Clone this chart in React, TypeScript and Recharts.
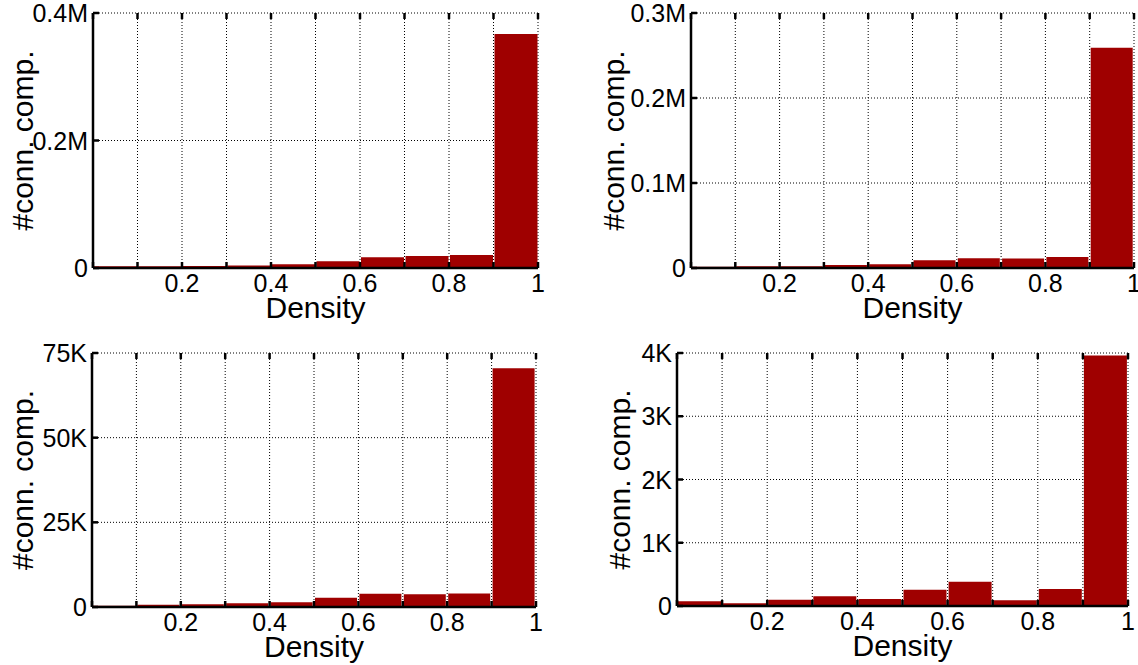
import React from 'react';
import { BarChart, Bar, XAxis, YAxis, CartesianGrid } from 'recharts';

// density bins (0-0.1 ... 0.9-1) and their midpoints
const BINS = ['0-0.1', '0.1-0.2', '0.2-0.3', '0.3-0.4', '0.4-0.5', '0.5-0.6', '0.6-0.7', '0.7-0.8', '0.8-0.9', '0.9-1'];
const BIN_MIDS = [0.05, 0.15, 0.25, 0.35, 0.45, 0.55, 0.65, 0.75, 0.85, 0.95];
const X_TICKS = [0, 0.1, 0.2, 0.3, 0.4, 0.5, 0.6, 0.7, 0.8, 0.9, 1];
const X_LABELED = [0.2, 0.4, 0.6, 0.8, 1];

// #conn. comp. per bin, one array per panel
const COUNTS_TL = [2600, 2600, 3000, 4000, 5700, 10500, 16700, 18800, 20400, 367000];
const COUNTS_TR = [1500, 2000, 2200, 3500, 4300, 9000, 11500, 11200, 13000, 259000];
const COUNTS_BL = [400, 700, 800, 1100, 1400, 2750, 3900, 3800, 4000, 70500];
const COUNTS_BR = [74, 42, 100, 153, 111, 258, 385, 90, 269, 3960];

const Y_TICKS_TL = [0, 200000, 400000];
const Y_TICKS_TR = [0, 100000, 200000, 300000];
const Y_TICKS_BL = [0, 25000, 50000, 75000];
const Y_TICKS_BR = [0, 1000, 2000, 3000, 4000];

const FONT = '"Liberation Sans", Arial, Helvetica, sans-serif';
const BAR_COLOR = '#9f0000';
const TICK_LEN = 6;
const TICK_W = 2.5;

const fmtM = (v: number) => (v === 0 ? '0' : `${v / 1e6}M`);
const fmtK = (v: number) => (v === 0 ? '0' : `${v / 1000}K`);

const BottomTick = (props: any) => {
  const { x, y, payload } = props;
  const v = payload.value;
  return (
    <g>
      <line x1={x} x2={x} y1={y} y2={y - TICK_LEN} stroke="#000" strokeWidth={TICK_W} />
      {X_LABELED.includes(v) && (
        <text x={x} y={y + 24} textAnchor="middle" fontSize={25} fontFamily={FONT} fill="#000">
          {String(v)}
        </text>
      )}
    </g>
  );
};

const TopTick = (props: any) => {
  const { x, y } = props;
  return <line x1={x} x2={x} y1={y} y2={y + TICK_LEN} stroke="#000" strokeWidth={TICK_W} />;
};

const RightTick = (props: any) => {
  const { x, y } = props;
  return <line x1={x} x2={x - TICK_LEN} y1={y} y2={y} stroke="#000" strokeWidth={TICK_W} />;
};

const makeLeftTick = (fmt: (v: number) => string) => (props: any) => {
  const { x, y, payload } = props;
  return (
    <g>
      <line x1={x} x2={x + TICK_LEN} y1={y} y2={y} stroke="#000" strokeWidth={TICK_W} />
      <text x={x - 5} y={y + 9} textAnchor="end" fontSize={25} fontFamily={FONT} fill="#000">
        {fmt(payload.value)}
      </text>
    </g>
  );
};

interface PanelProps {
  counts: number[];
  yTicks: number[];
  fmt: (v: number) => string;
  left: number;
  top: number;
  width: number;
  height: number;
  plot: { top: number; right: number; bottom: number; left: number };
  labelDx: number;
}

const Panel: React.FC<PanelProps> = ({ counts, yTicks, fmt, left, top, width, height, plot, labelDx }) => {
  const data = BINS.map((bin, i) => ({ bin, mid: BIN_MIDS[i], count: counts[i] }));
  const yMax = yTicks[yTicks.length - 1];
  // every axis takes 1px, so pull the margins in by one
  const margin = { top: plot.top - 1, right: plot.right - 1, bottom: plot.bottom - 1, left: plot.left - 1 };
  return (
    <div style={{ position: 'absolute', left, top, fontFamily: FONT }}>
      <BarChart width={width} height={height} data={data} margin={margin} barCategoryGap={1}>
        <CartesianGrid stroke="#000" strokeDasharray="1 2" strokeWidth={1} />
        <XAxis xAxisId="bins" dataKey="bin" type="category" hide />
        <XAxis
          dataKey="mid"
          type="number"
          scale="linear"
          domain={[0, 1]}
          allowDataOverflow
          ticks={X_TICKS}
          interval={0}
          height={1}
          tickSize={0}
          tickMargin={0}
          tick={BottomTick}
          axisLine={{ stroke: '#000', strokeWidth: TICK_W }}
          label={{ value: 'Density', position: 'bottom', offset: 28, fontSize: 30, fill: '#000' }}
        />
        <XAxis
          xAxisId="top"
          dataKey="mid"
          orientation="top"
          type="number"
          scale="linear"
          domain={[0, 1]}
          allowDataOverflow
          ticks={X_TICKS}
          interval={0}
          height={1}
          tickSize={0}
          tickMargin={0}
          tick={TopTick}
          axisLine={false}
        />
        <YAxis
          type="number"
          domain={[0, yMax]}
          ticks={yTicks}
          interval={0}
          width={1}
          tickSize={0}
          tickMargin={0}
          tick={makeLeftTick(fmt)}
          axisLine={{ stroke: '#000', strokeWidth: TICK_W }}
          label={{ value: '#conn. comp.', angle: -90, position: 'center', dx: labelDx, fontSize: 30, fill: '#000' }}
        />
        <YAxis
          yAxisId="right"
          orientation="right"
          type="number"
          domain={[0, yMax]}
          ticks={yTicks}
          interval={0}
          width={1}
          tickSize={0}
          tickMargin={0}
          tick={RightTick}
          axisLine={false}
        />
        <Bar dataKey="count" xAxisId="bins" fill={BAR_COLOR} isAnimationActive={false} />
      </BarChart>
    </div>
  );
};

export default function App() {
  return (
    <div style={{ position: 'absolute', left: 0, top: 0, width: 1138, height: 665, background: '#fff' }}>
      <Panel
        counts={COUNTS_TL}
        yTicks={Y_TICKS_TL}
        fmt={fmtM}
        left={0}
        top={0}
        width={560}
        height={330}
        plot={{ top: 13, left: 93, right: 22, bottom: 62 }}
        labelDx={-70}
      />
      <Panel
        counts={COUNTS_TR}
        yTicks={Y_TICKS_TR}
        fmt={fmtM}
        left={569}
        top={0}
        width={569}
        height={330}
        plot={{ top: 13, left: 122, right: 4, bottom: 62 }}
        labelDx={-77}
      />
      <Panel
        counts={COUNTS_BL}
        yTicks={Y_TICKS_BL}
        fmt={fmtK}
        left={0}
        top={330}
        width={560}
        height={335}
        plot={{ top: 23, left: 92, right: 24, bottom: 58 }}
        labelDx={-69}
      />
      <Panel
        counts={COUNTS_BR}
        yTicks={Y_TICKS_BR}
        fmt={fmtK}
        left={569}
        top={330}
        width={569}
        height={335}
        plot={{ top: 23, left: 108, right: 10, bottom: 59 }}
        labelDx={-57}
      />
    </div>
  );
}
